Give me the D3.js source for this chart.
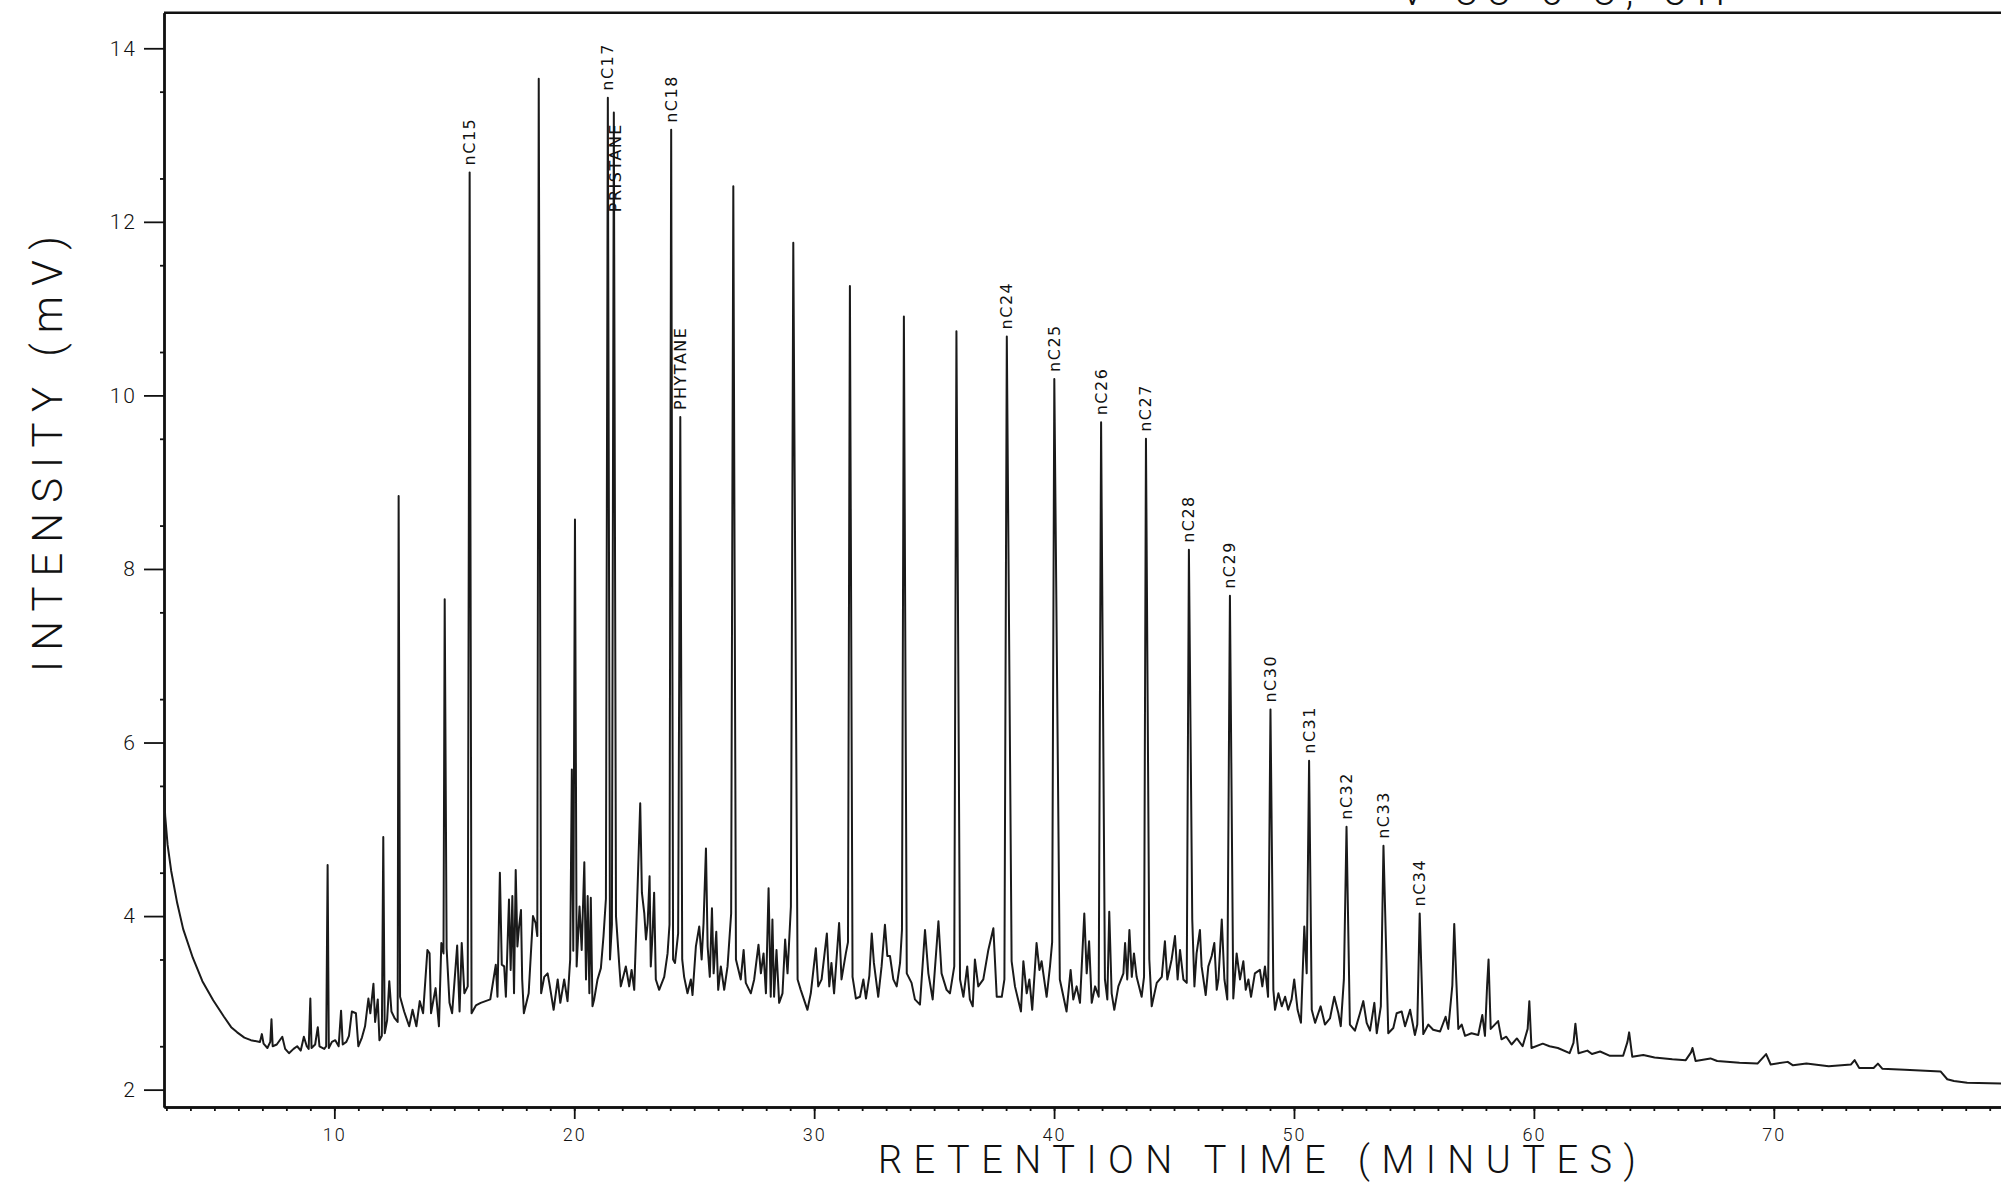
<!DOCTYPE html>
<html><head><meta charset="utf-8">
<script src="https://cdn.jsdelivr.net/npm/d3@7"></script>
<style>html,body{margin:0;padding:0;background:#fff;} svg{display:block;}</style>
</head><body>
<svg id="chart" width="2001" height="1185"></svg>
<script>
// ---- data: [retention time (min), intensity (mV)] ----
const solventTail = [[2.90,5.45],[2.95,5.15],[3.05,4.82],[3.2,4.52],[3.45,4.15],[3.7,3.85],[4.1,3.52],[4.5,3.25],[4.95,3.03],[5.4,2.84],[5.7,2.72],[5.95,2.66],[6.25,2.6],[6.52,2.57]];
const earlyTrace = [[6.90,2.55],[6.98,2.64],[7.05,2.53],[7.21,2.48],[7.33,2.55],[7.38,2.81],[7.43,2.50],[7.6,2.52],[7.83,2.61],[7.95,2.47],[8.11,2.42],[8.3,2.47],[8.45,2.50],[8.6,2.45],[8.73,2.61],[8.85,2.50],[8.93,2.47],[9.00,3.05],[9.05,2.48],[9.2,2.52],[9.31,2.72],[9.38,2.50],[9.58,2.47],[9.66,2.50],[9.72,4.59],[9.77,2.48],[9.9,2.55],[10.04,2.57],[10.18,2.50],[10.28,2.91],[10.35,2.52],[10.5,2.55],[10.61,2.62],[10.73,2.90],[10.9,2.88],[11.0,2.50],[11.15,2.6],[11.28,2.73],[11.42,3.05],[11.5,2.88],[11.63,3.22],[11.7,2.78],[11.81,3.04],[11.88,2.57],[11.98,2.62],[12.04,4.91],[12.1,2.65],[12.2,2.80],[12.29,3.25],[12.38,2.90],[12.52,2.82],[12.64,2.78],[12.68,8.84],[12.74,3.07],[12.91,2.90],[13.12,2.73],[13.26,2.92],[13.42,2.73],[13.56,3.02],[13.7,2.88],[13.88,3.61],[13.97,3.57],[14.03,2.88],[14.22,3.17],[14.36,2.73],[14.46,3.69],[14.55,3.57],[14.60,7.65],[14.68,3.63],[14.8,3.0],[14.91,2.88],[15.12,3.66],[15.22,2.90],[15.31,3.69],[15.42,3.11],[15.56,3.19],[15.64,12.57],[15.72,2.88],[15.9,2.97],[16.1,3.0],[16.5,3.04],[16.73,3.44],[16.8,3.07],[16.90,4.50],[16.98,3.44],[17.08,3.42],[17.15,3.07],[17.28,4.19],[17.35,3.38],[17.42,4.23],[17.49,3.11],[17.56,4.53],[17.63,3.65],[17.70,3.88],[17.78,4.07],[17.83,3.27],[17.9,2.88],[18.1,3.11],[18.28,4.0],[18.39,3.92],[18.46,3.77],[18.52,13.65],[18.62,3.11]];
const midTrace = [[18.75,3.30],[18.89,3.34],[18.96,3.23],[19.14,2.92],[19.31,3.27],[19.42,3.0],[19.58,3.27],[19.72,3.02],[19.83,3.50],[19.90,5.69],[19.96,3.6],[20.03,8.57],[20.1,3.42],[20.22,4.11],[20.31,3.61],[20.42,4.62],[20.49,3.27],[20.56,4.23],[20.63,3.11],[20.69,4.21],[20.76,2.96],[20.83,3.04],[20.97,3.27],[21.11,3.40],[21.22,3.77],[21.32,4.2],[21.40,13.43],[21.49,3.5],[21.57,3.9],[21.65,13.26],[21.74,4.0],[21.88,3.42],[21.94,3.19],[22.15,3.42],[22.29,3.19],[22.39,3.38],[22.5,3.15],[22.61,4.07],[22.75,5.30],[22.82,4.27],[22.92,4.03],[22.99,3.73],[23.06,3.92],[23.14,4.46],[23.19,3.42],[23.26,3.77],[23.33,4.27],[23.40,3.27],[23.54,3.15],[23.75,3.30],[23.89,3.57],[23.97,3.9],[24.04,13.06],[24.12,3.5],[24.2,3.46],[24.33,3.8],[24.42,9.75],[24.5,3.5],[24.58,3.30],[24.72,3.11],[24.86,3.27],[24.93,3.09],[25.07,3.65],[25.21,3.88],[25.31,3.50],[25.39,3.92],[25.49,4.78],[25.56,3.65],[25.65,3.30],[25.74,4.09],[25.81,3.34],[25.92,3.82],[26.0,3.15],[26.11,3.42],[26.25,3.15],[26.39,3.42],[26.54,4.03],[26.63,12.41],[26.74,3.50],[26.94,3.27],[27.06,3.61],[27.15,3.23],[27.36,3.11],[27.5,3.27],[27.68,3.67],[27.78,3.34],[27.89,3.57],[27.99,3.11],[28.10,4.32],[28.19,3.07],[28.26,3.96],[28.33,3.07],[28.43,3.61],[28.54,3.0],[28.68,3.11],[28.79,3.73],[28.89,3.34],[29.03,4.11],[29.13,11.76],[29.31,3.27],[29.44,3.15],[29.72,2.92],[29.86,3.11],[30.07,3.63],[30.17,3.19],[30.31,3.27],[30.53,3.80],[30.63,3.19],[30.72,3.46],[30.83,3.11],[31.04,3.92],[31.14,3.27],[31.32,3.57],[31.41,3.7],[31.49,11.26],[31.6,3.3],[31.74,3.05]];
const lateTrace = [[31.91,3.07],[32.05,3.27],[32.16,3.05],[32.3,3.31],[32.40,3.80],[32.49,3.46],[32.67,3.07],[32.81,3.42],[32.95,3.90],[33.05,3.54],[33.16,3.54],[33.3,3.27],[33.44,3.19],[33.58,3.46],[33.66,3.84],[33.74,10.91],[33.86,3.34],[34.06,3.23],[34.2,3.04],[34.41,2.98],[34.62,3.84],[34.76,3.34],[34.94,3.04],[35.18,3.94],[35.31,3.34],[35.52,3.15],[35.66,3.11],[35.84,3.42],[35.93,10.74],[36.08,3.27],[36.22,3.07],[36.38,3.42],[36.49,3.04],[36.61,2.96],[36.70,3.50],[36.84,3.19],[37.05,3.27],[37.26,3.61],[37.47,3.86],[37.61,3.07],[37.82,3.07],[37.93,3.27],[38.03,10.68],[38.23,3.48],[38.37,3.19],[38.62,2.90],[38.72,3.48],[38.86,3.11],[38.97,3.27],[39.09,2.92],[39.27,3.69],[39.39,3.38],[39.48,3.48],[39.69,3.07],[39.83,3.42],[39.92,3.7],[40.01,10.19],[40.24,3.27],[40.52,2.90],[40.69,3.38],[40.8,3.04],[40.94,3.19],[41.08,3.0],[41.26,4.03],[41.36,3.34],[41.46,3.71],[41.57,3.0],[41.71,3.19],[41.86,3.07],[41.96,9.69],[42.12,3.27],[42.22,3.04],[42.30,4.05],[42.4,3.11],[42.51,2.92],[42.68,3.19],[42.89,3.34],[42.96,3.69],[43.05,3.27],[43.14,3.84],[43.24,3.30],[43.33,3.57],[43.44,3.30],[43.65,3.07],[43.75,3.3],[43.83,9.50],[43.97,3.50],[44.07,2.96],[44.28,3.23],[44.49,3.30],[44.62,3.71],[44.72,3.27],[44.90,3.50],[45.04,3.77],[45.15,3.27],[45.25,3.61],[45.39,3.27],[45.53,3.23],[45.62,8.22],[45.76,3.96],[45.85,3.19],[45.94,3.57],[46.08,3.84],[46.15,3.42],[46.32,3.09],[46.43,3.42],[46.57,3.54],[46.68,3.69],[46.78,3.15],[46.85,3.27],[46.99,3.96],[47.1,3.27],[47.22,3.04],[47.33,7.69],[47.47,3.05],[47.61,3.57],[47.75,3.27],[47.89,3.48],[47.99,3.15],[48.1,3.27],[48.21,3.07],[48.37,3.34],[48.58,3.38],[48.68,3.19],[48.79,3.42],[48.92,3.07],[49.02,6.38],[49.14,3.15],[49.21,2.92],[49.35,3.11],[49.49,2.96],[49.63,3.07],[49.76,2.92],[49.9,3.04],[50.01,3.27],[50.15,2.92],[50.29,2.77],[50.43,3.88],[50.53,3.34],[50.63,5.79],[50.74,2.92],[50.88,2.77],[51.11,2.96],[51.29,2.75],[51.5,2.82],[51.68,3.07],[51.85,2.88],[51.95,2.73],[52.08,3.27],[52.19,5.03],[52.33,2.75],[52.54,2.68],[52.75,2.88],[52.89,3.02],[53.03,2.77],[53.17,2.68],[53.35,3.0],[53.45,2.65],[53.62,2.96],[53.73,4.81],[53.93,2.65],[54.14,2.71],[54.28,2.88],[54.49,2.90],[54.63,2.73],[54.84,2.92],[55.04,2.63],[55.14,2.75],[55.24,4.03],[55.39,2.64],[55.6,2.75],[55.8,2.69],[56.09,2.67],[56.32,2.84],[56.43,2.70],[56.6,3.2],[56.68,3.91],[56.76,3.3],[56.85,2.70],[56.99,2.75],[57.13,2.62],[57.4,2.65],[57.68,2.63],[57.85,2.86],[57.96,2.62],[58.05,3.2],[58.11,3.50],[58.2,2.70]];
const tailTrace = [[58.51,2.79],[58.65,2.58],[58.85,2.61],[59.07,2.52],[59.29,2.59],[59.53,2.50],[59.74,2.7],[59.81,3.02],[59.9,2.48],[60.37,2.53],[60.65,2.50],[61.0,2.48],[61.49,2.42],[61.65,2.54],[61.73,2.76],[61.86,2.42],[62.23,2.45],[62.42,2.41],[62.76,2.44],[63.17,2.39],[63.72,2.39],[63.9,2.55],[63.97,2.66],[64.1,2.38],[64.56,2.40],[65.03,2.37],[65.77,2.35],[66.33,2.34],[66.55,2.43],[66.61,2.48],[66.74,2.33],[67.36,2.36],[67.64,2.33],[68.57,2.31],[69.32,2.30],[69.68,2.41],[69.87,2.29],[70.58,2.32],[70.8,2.28],[71.36,2.30],[72.29,2.27],[73.22,2.29],[73.37,2.34],[73.56,2.25],[74.16,2.25],[74.34,2.30],[74.53,2.24],[75.46,2.23],[76.95,2.21],[77.23,2.12],[77.51,2.10],[78.06,2.08],[79.47,2.07]];

const yTicks = [2, 4, 6, 8, 10, 12, 14];
const xTicks = [10, 20, 30, 40, 50, 60, 70];
const labelNames = ["nC15","nC17","PRISTANE","nC18","PHYTANE","nC24","nC25","nC26","nC27","nC28","nC29","nC30","nC31","nC32","nC33","nC34"];
const labelTimes = [15.64, 21.40, 21.70, 24.04, 24.42, 38.03, 40.01, 41.96, 43.83, 45.62, 47.33, 49.02, 50.63, 52.19, 53.73, 55.24];
const labelStarts = [12.57, 13.43, 12.03, 13.06, 9.75, 10.68, 10.19, 9.69, 9.50, 8.22, 7.69, 6.38, 5.79, 5.03, 4.81, 4.03];
const xTitle = "RETENTION TIME (MINUTES)";
const yTitle = "INTENSITY (mV)";
const clippedHeader = "V  88  6  8, 3H";

// ---- drawing ----
const svg = d3.select("#chart");
const FONT = "Roboto, 'DejaVu Sans', sans-serif";
const x = d3.scaleLinear().domain([2.90, 79.47]).range([164, 2001]);
const y = d3.scaleLinear().domain([1.80, 14.41]).range([1107, 12.7]);

const trace = [].concat(solventTail, earlyTrace, midTrace, lateTrace, tailTrace);

// header text cut off by the top edge of the scan (as in the original)
svg.append("text").attr("x", 1400).attr("y", 5)
  .attr("font-family", FONT).attr("font-weight", 300).attr("font-size", 40)
  .attr("textLength", 325).attr("lengthAdjust", "spacing").attr("fill", "#111")
  .text(clippedHeader);

// axes
const gx = svg.append("g").attr("transform", `translate(0,${y.range()[0]})`)
  .call(d3.axisBottom(x).tickValues(xTicks).tickSize(12).tickSizeOuter(0).tickPadding(9).tickFormat(d3.format("d")));
const gxMinor = svg.append("g").attr("transform", `translate(0,${y.range()[0]})`)
  .call(d3.axisBottom(x).tickValues(d3.range(3, 80, 1)).tickSize(4).tickSizeOuter(0).tickFormat(""));
const gy = svg.append("g").attr("transform", `translate(${x.range()[0]},0)`)
  .call(d3.axisLeft(y).tickValues(yTicks).tickSize(20).tickSizeOuter(0).tickPadding(7).tickFormat(d3.format("d")));
const gyMinor = svg.append("g").attr("transform", `translate(${x.range()[0]},0)`)
  .call(d3.axisLeft(y).tickValues(d3.range(2.5, 14.5, 1)).tickSize(4).tickSizeOuter(0).tickFormat(""));

[gx, gxMinor, gy, gyMinor].forEach(g => {
  g.select(".domain").attr("stroke", "#111").attr("stroke-width", 2.4);
  g.selectAll(".tick line").attr("stroke", "#111").attr("stroke-width", 1.8);
});
gx.selectAll(".tick text").attr("font-family", FONT).attr("font-weight", 300)
  .attr("font-size", 18).attr("letter-spacing", 2).attr("fill", "#111");
gy.selectAll(".tick text").attr("font-family", FONT).attr("font-weight", 300)
  .attr("font-size", 21).attr("letter-spacing", 2).attr("fill", "#111");

// top frame line
svg.append("line").attr("x1", x.range()[0]).attr("x2", x.range()[1])
  .attr("y1", y.range()[1]).attr("y2", y.range()[1])
  .attr("stroke", "#111").attr("stroke-width", 2.4);

// chromatogram trace
svg.append("path").datum(trace)
  .attr("fill", "none").attr("stroke", "#1a1a1a").attr("stroke-width", 2)
  .attr("stroke-linejoin", "round")
  .attr("d", d3.line().x(d => x(d[0])).y(d => y(d[1])));

// peak labels
svg.append("g").selectAll("text").data(labelNames).join("text")
  .attr("transform", (d, i) => `translate(${x(labelTimes[i])},${y(labelStarts[i]) - 7}) rotate(-90)`)
  .attr("text-anchor", "start").attr("dominant-baseline", "central")
  .attr("font-family", "'DejaVu Sans', sans-serif").attr("font-size", 16)
  .attr("letter-spacing", 1.5).attr("fill", "#111")
  .text(d => d);

// axis titles
svg.append("text").attr("x", 878).attr("y", 1173)
  .attr("font-family", FONT).attr("font-weight", 300).attr("font-size", 38)
  .attr("textLength", 758).attr("lengthAdjust", "spacing").attr("fill", "#111")
  .text(xTitle);
svg.append("text").attr("transform", "translate(62,454) rotate(-90)")
  .attr("text-anchor", "middle")
  .attr("font-family", FONT).attr("font-weight", 300).attr("font-size", 42)
  .attr("textLength", 436).attr("lengthAdjust", "spacing").attr("fill", "#111")
  .text(yTitle);
</script>
</body></html>
